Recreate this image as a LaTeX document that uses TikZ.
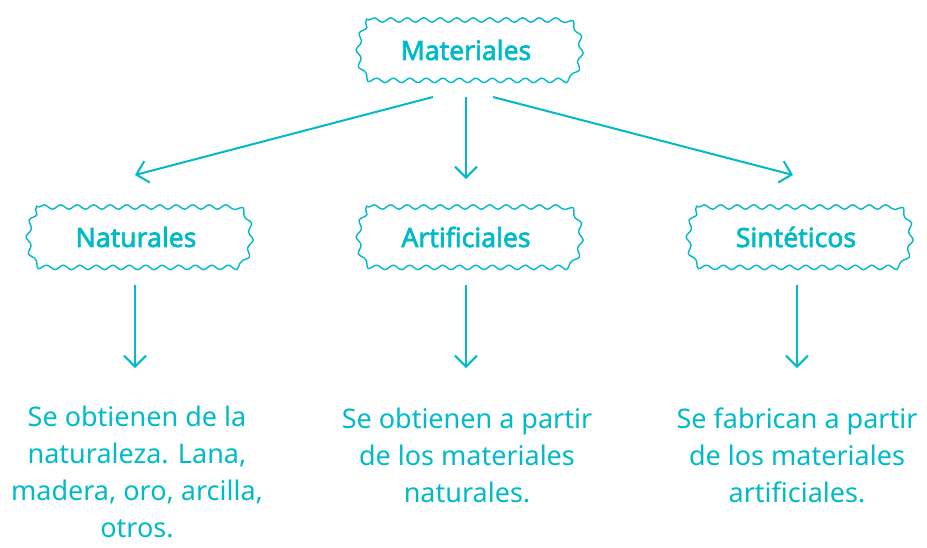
\documentclass[tikz,border=0pt]{standalone}
\usepackage{fontspec}
\setmainfont{Noto Sans}
\newfontfamily\titlefont[FakeBold=2.4]{Noto Sans}
\usetikzlibrary{arrows.meta,decorations.pathmorphing}
\definecolor{tc}{HTML}{00BAC8}
\begin{document}
\begin{tikzpicture}[x=1pt,y=-1pt,
  wbox/.style={minimum width=222pt,minimum height=60pt,inner sep=0pt,text=tc,font=\titlefont\fontsize{26.5}{30}\selectfont},
  wave/.style={draw=tc,line width=1.4pt,decorate,decoration={snake,segment length=16.5pt,amplitude=2.2pt}},
  conn/.style={draw=tc,line width=2pt,-{Straight Barb[length=11pt,width=22pt,line width=2pt]}},
  desc/.style={text=tc,align=center,font=\fontsize{27}{37}\selectfont,anchor=north,inner sep=0pt}]
\useasboundingbox (0,0) rectangle (927,547);
\node[wbox] (mat) at (466,50) {Materiales};
\node[wbox] (nat) at (136,237) {Naturales};
\node[wbox] (art) at (466,237) {Artificiales};
\node[wbox] (sin) at (796,237) {Sintéticos};
\foreach \cx/\cy in {465/50,135/237,465/237,795/237}{
  \draw[wave] (\cx-96,\cy-30) -- (\cx+96,\cy-30)
     arc[start angle=-90,end angle=90,x radius=16,y radius=30]
     -- (\cx-96,\cy+30)
     arc[start angle=90,end angle=270,x radius=16,y radius=30] -- cycle;
}
\coordinate (m1) at (433,97);
\coordinate (m2) at (466,97);
\coordinate (m3) at (493,97);
\coordinate (n1) at (135,175);
\coordinate (n2) at (466,179);
\coordinate (n3) at (793,175);
\draw[conn] (m1) -- (n1);
\draw[conn] (m2) -- (n2);
\draw[conn] (m3) -- (n3);
\node[desc] (dn) at (137,406) {Se obtienen de la\\naturaleza. Lana,\\madera, oro, arcilla,\\otros.};
\node[desc] (da) at (467,408) {Se obtienen a partir\\de los materiales\\naturales.};
\node[desc] (ds) at (797,408) {Se fabrican a partir\\de los materiales\\artificiales.};
\coordinate (a1) at (135,285);
\coordinate (a2) at (466,285);
\coordinate (a3) at (797,285);
\draw[conn] (a1) -- (a1 |- 0,368);
\draw[conn] (a2) -- (a2 |- 0,368);
\draw[conn] (a3) -- (a3 |- 0,368);
\end{tikzpicture}
\end{document}
